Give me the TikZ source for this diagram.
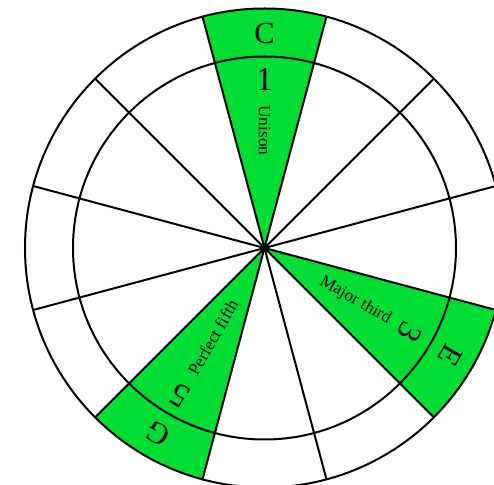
\documentclass[tikz,border=0pt]{standalone}
\usepackage{fontspec}
\setmainfont{Liberation Serif}
\usetikzlibrary{positioning}
\definecolor{ink}     {HTML}{000000}
\definecolor{keygreen}{HTML}{00DD33}
\tikzset{
  every node/.style={inner sep=0pt},
  % --- shapes
  rim/.style      = {draw=ink, line width=1.5pt},
  spoke/.style    = {draw=ink, line width=1.5pt},
  hit/.style      = {fill=keygreen},
  % --- texts
  note/.style     = {font=\fontsize{23}{23}\selectfont},
  degree/.style   = {font=\fontsize{25}{25}\selectfont},
  interval/.style = {font=\fontsize{13}{13}\selectfont},
}

\begin{document}
\begin{tikzpicture}[x=0.75pt,y=0.75pt]
  \useasboundingbox (-264.5,-237) rectangle (229.5,248);
  \def\rin{191.5} \def\rout{239.5}
  \foreach \a in {90,-30,240}
    \fill[hit] (0,0) -- (\a-15:\rout) arc[start angle=\a-15, end angle=\a+15, radius=\rout] -- cycle;
  \draw[rim] (0,0) circle[radius=\rin];
  \draw[rim] (0,0) circle[radius=\rout];
  \foreach \k in {0,...,11}
    \draw[spoke] (0,0) -- ({15+30*\k}:\rout);
  % --- labels
  \node[note] (c) at (90:214) {C};
  \node[note, rotate=-120] (e) at (-30:215) {E};
  \node[note, rotate=150] (g) at (240:214) {G};
  \node[degree] (d1) at (90:168) {1};
  \node[degree, rotate=-120] (d3) at (-30:168) {3};
  \node[degree, rotate=150] (d5) at (240:170) {5};
  \node[interval, rotate=-90, anchor=west] (uni) at (90:143) {Unison};
  \node[interval, rotate=-30, anchor=east] (maj) at (-30:145) {Major third};
  \node[interval, rotate=60, anchor=west] (per) at (240:145) {Perfect fifth};
\end{tikzpicture}
\end{document}
